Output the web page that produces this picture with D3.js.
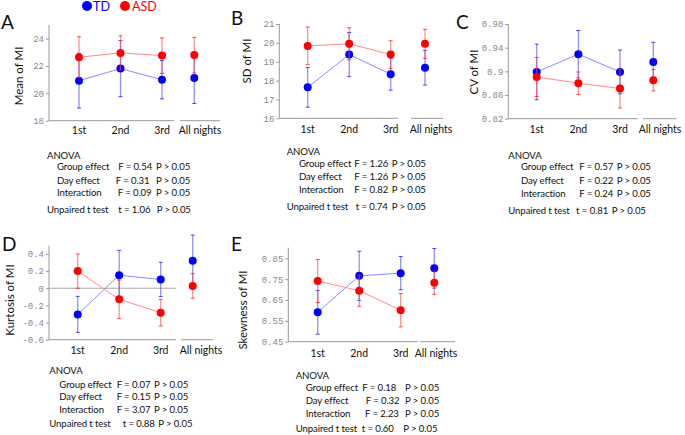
<!DOCTYPE html>
<html><head><meta charset="utf-8">
<script src="https://cdn.jsdelivr.net/npm/d3@7"></script>
<style>
body{margin:0;background:#fff;}
svg{display:block;}
</style></head>
<body>
<svg id="chart" width="685" height="435"></svg>
<script>
// ---------- data ----------
const categories = ["1st", "2nd", "3rd", "All nights"];
const groups = ["TD", "ASD"];

const meanTD = [20.93, 21.81, 21.0, 21.13];
const meanTDsd = [2.0, 2.05, 1.4, 1.87];
const meanASD = [22.64, 22.96, 22.76, 22.8];
const meanASDsd = [1.5, 1.25, 1.3, 1.3];

const sdTD = [17.64, 19.38, 18.34, 18.68];
const sdTDsd = [1.05, 1.17, 0.85, 0.92];
const sdASD = [19.84, 19.95, 19.38, 19.95];
const sdASDsd = [1.0, 0.85, 0.73, 0.77];

const cvTD = [0.899, 0.929, 0.899, 0.916];
const cvTDsd = [0.047, 0.04, 0.037, 0.033];
const cvASD = [0.8905, 0.88, 0.871, 0.885];
const cvASDsd = [0.033, 0.019, 0.033, 0.018];

const kurtTD = [-0.305, 0.152, 0.102, 0.32];
const kurtTDsd = [0.21, 0.29, 0.2, 0.3];
const kurtASD = [0.2, -0.129, -0.285, 0.027];
const kurtASDsd = [0.2, 0.225, 0.155, 0.143];

const skewTD = [0.591, 0.766, 0.779, 0.802];
const skewTDsd = [0.105, 0.118, 0.08, 0.095];
const skewASD = [0.741, 0.695, 0.601, 0.733];
const skewASDsd = [0.103, 0.075, 0.08, 0.056];

const ticksA = [18, 20, 22, 24];
const ticksB = [16, 17, 18, 19, 20, 21];
const ticksC = [0.82, 0.86, 0.9, 0.94, 0.98];
const ticksD = [-0.6, -0.4, -0.2, 0, 0.2, 0.4];
const ticksE = [0.45, 0.55, 0.65, 0.75, 0.85];

const statsA = [["Group effect", "F = 0.54", "P > 0.05"], ["Day effect", "F = 0.31", "P > 0.05"], ["Interaction", "F = 0.09", "P > 0.05"], ["Unpaired t test", "t = 1.06", "P > 0.05"]];
const statsB = [["Group effect", "F = 1.26", "P > 0.05"], ["Day effect", "F = 1.26", "P > 0.05"], ["Interaction", "F = 0.82", "P > 0.05"], ["Unpaired t test", "t = 0.74", "P > 0.05"]];
const statsC = [["Group effect", "F = 0.57", "P > 0.05"], ["Day effect", "F = 0.22", "P > 0.05"], ["Interaction", "F = 0.24", "P > 0.05"], ["Unpaired t test", "t = 0.81", "P > 0.05"]];
const statsD = [["Group effect", "F = 0.07", "P > 0.05"], ["Day effect", "F = 0.15", "P > 0.05"], ["Interaction", "F = 3.07", "P > 0.05"], ["Unpaired t test", "t = 0.88", "P > 0.05"]];
const statsE = [["Group effect", "F = 0.18", "P > 0.05"], ["Day effect", "F = 0.32", "P > 0.05"], ["Interaction", "F = 2.23", "P > 0.05"], ["Unpaired t test", "t = 0.60", "P > 0.05"]];

// ---------- layout ----------
const colors = {TD: "#0000ff", ASD: "#ff0000"};
const lineColors = {TD: "#8c8cff", ASD: "#ff8c8c"};
const barColors = {TD: "rgba(70,70,255,0.6)", ASD: "rgba(255,70,70,0.6)"};
const font = "Lato, 'Open Sans', sans-serif";
const mono = "'Liberation Mono', 'DejaVu Sans Mono', monospace";

const panels = [
  {letter: "A", ylabel: "Mean of MI", td: meanTD, tdE: meanTDsd, asd: meanASD, asdE: meanASDsd,
   domain: [18, 25], ticks: ticksA, x0: 49, yTop: 25, yBot: 120.7, xEnd: 174, sep: [180, 220],
   first: 79, last: 162, all: 194.3, allLab: 200, letterPos: [1, 29], ylabPos: [23, 76], xlabY: 134,
   stats: statsA, st: {ax: 47, ay: 155, lx: 57, ly: [166.7, 180, 192.7], fx: [118.3, 115.7, 117.7], px: 156, ty: 209.3, tx: 118.3, tpx: 156.7}},
  {letter: "B", ylabel: "SD of MI", td: sdTD, tdE: sdTDsd, asd: sdASD, asdE: sdASDsd,
   domain: [16, 21], ticks: ticksB, x0: 279.3, yTop: 24, yBot: 118.3, xEnd: 398, sep: [411, 443],
   first: 307.7, last: 390.7, all: 425, allLab: 431, letterPos: [231, 25], ylabPos: [251, 61], xlabY: 133,
   stats: statsB, st: {ax: 286.7, ay: 151.7, lx: 299, ly: [163.3, 176, 189.3], fx: [354.3, 357.7, 356], px: 391.7, ty: 206, tx: 355.7, tpx: 391.7}},
  {letter: "C", ylabel: "CV of MI", td: cvTD, tdE: cvTDsd, asd: cvASD, asdE: cvASDsd,
   domain: [0.82, 0.98], ticks: ticksC, x0: 508.3, yTop: 24, yBot: 118.7, xEnd: 637.7, sep: [643, 676.7],
   first: 536.7, last: 620, all: 653.3, allLab: 660, letterPos: [456, 29], ylabPos: [478, 72], xlabY: 133,
   stats: statsC, st: {ax: 508.3, ay: 155, lx: 521, ly: [166.7, 180, 193.3], fx: [580, 580, 581], px: 616.7, ty: 210.7, tx: 578.3, tpx: 611.7}},
  {letter: "D", ylabel: "Kurtosis  of MI", td: kurtTD, tdE: kurtTDsd, asd: kurtASD, asdE: kurtASDsd,
   domain: [-0.6, 0.496], ticks: ticksD, x0: 49, yTop: 245.7, yBot: 339.7, xEnd: 176, sep: [181, 213],
   first: 77.7, last: 160.7, all: 192.7, allLab: 201, letterPos: [2, 251], ylabPos: [14, 300], xlabY: 354, zero: true,
   stats: statsD, st: {ax: 49.3, ay: 370, lx: 59.3, ly: [384, 396, 409.3], fx: [119.3, 120, 120], px: 154, ty: 423.3, tx: 124, tpx: 158.3}},
  {letter: "E", ylabel: "Skewness of MI", td: skewTD, tdE: skewTDsd, asd: skewASD, asdE: skewASDsd,
   domain: [0.45, 0.901], ticks: ticksE, x0: 288.3, yTop: 247.7, yBot: 341.7, xEnd: 418, sep: [420, 455],
   first: 317.7, last: 400.7, all: 434.3, allLab: 436, letterPos: [231, 251], ylabPos: [247, 310], xlabY: 357,
   stats: statsE, st: {ax: 295.7, ay: 375, lx: 305.7, ly: [387.7, 400.7, 413.3], fx: [362.3, 365.7, 365], px: 405, ty: 428.3, tx: 361.7, tpx: 403.3}}
];

const svg = d3.select("#chart");

// legend
const legend = svg.append("g");
[["TD", 87, 93], ["ASD", 125, 132]].forEach(([g, cx, tx]) => {
  legend.append("circle").attr("cx", cx).attr("cy", 6).attr("r", 5).attr("fill", colors[g]);
  legend.append("text").attr("x", tx).attr("y", 11).attr("font-family", font).attr("font-size", 12.5)
    .attr("fill", colors[g]).text(g);
});

panels.forEach(p => {
  const g = svg.append("g");
  const y = d3.scaleLinear().domain(p.domain).range([p.yBot, p.yTop]);
  const xDays = d3.scalePoint().domain(categories.slice(0, 3)).range([p.first, p.last]);
  const x = c => c === categories[3] ? p.all : xDays(c);
  const xl = c => c === categories[3] ? p.allLab : xDays(c);

  // panel letter
  g.append("text").attr("x", p.letterPos[0]).attr("y", p.letterPos[1]).attr("font-family", font)
    .attr("font-size", 19).attr("fill", "#111").text(p.letter);

  // y axis
  const yAxis = d3.axisLeft(y).tickValues(p.ticks).tickSize(3).tickPadding(2).tickSizeOuter(0)
    .tickFormat(d => String(+d.toFixed(2)));
  const ya = g.append("g").attr("transform", `translate(${p.x0},0)`).call(yAxis);
  ya.select(".domain").attr("stroke", "#999").attr("d", `M0,${p.yTop}V${p.yBot}`);
  ya.selectAll(".tick line").attr("stroke", "#999");
  ya.selectAll(".tick text").attr("font-family", mono).attr("font-size", 9).attr("fill", "#888");

  // x axis lines
  g.append("line").attr("x1", p.x0).attr("x2", p.xEnd).attr("y1", p.yBot).attr("y2", p.yBot).attr("stroke", "#999");
  g.append("line").attr("x1", p.sep[0]).attr("x2", p.sep[1]).attr("y1", p.yBot).attr("y2", p.yBot).attr("stroke", "#999");
  if (p.zero) {
    g.append("line").attr("x1", p.x0).attr("x2", p.xEnd).attr("y1", y(0)).attr("y2", y(0)).attr("stroke", "#aaa");
  }
  // x labels
  categories.forEach(c => {
    g.append("text").attr("x", xl(c)).attr("y", p.xlabY).attr("text-anchor", "middle")
      .attr("font-family", font).attr("font-size", 10.5).attr("fill", "#111").text(c);
  });
  // y label
  g.append("text").attr("transform", `translate(${p.ylabPos[0]},${p.ylabPos[1]}) rotate(-90)`)
    .attr("text-anchor", "middle").attr("font-family", font).attr("font-size", 11.5).attr("fill", "#111").text(p.ylabel);

  // series
  [["TD", p.td, p.tdE], ["ASD", p.asd, p.asdE]].forEach(([grp, vals, errs]) => {
    const pts = categories.map((c, i) => ({c, v: vals[i], e: errs[i]}));
    const line = d3.line().x(d => x(d.c)).y(d => y(d.v));
    g.append("path").datum(pts.slice(0, 3)).attr("d", line).attr("fill", "none")
      .attr("stroke", lineColors[grp]).attr("stroke-width", 1);
    const eb = g.append("g");
    pts.forEach(d => {
      const xx = x(d.c);
      eb.append("line").attr("x1", xx).attr("x2", xx).attr("y1", y(d.v - d.e)).attr("y2", y(d.v + d.e))
        .attr("stroke", barColors[grp]).attr("stroke-width", 1.3);
      [d.v - d.e, d.v + d.e].forEach(v => {
        eb.append("line").attr("x1", xx - 2).attr("x2", xx + 2).attr("y1", y(v)).attr("y2", y(v))
          .attr("stroke", colors[grp]).attr("stroke-opacity", 0.7).attr("stroke-width", 1);
      });
    });
    g.append("g").selectAll("circle").data(pts).join("circle")
      .attr("cx", d => x(d.c)).attr("cy", d => y(d.v)).attr("r", 4).attr("fill", colors[grp]);
  });

  // stats
  const s = p.st;
  const txt = (tx, ty, t) => g.append("text").attr("x", tx).attr("y", ty + 3.5).attr("font-family", font)
    .attr("font-size", 9.6).attr("letter-spacing", -0.1).attr("fill", "#111").text(t);
  // middle column text kept clear of the P column
  const mid = (tx, ty, t, pxx) => {
    const el = txt(tx, ty, t);
    const w = el.node().getComputedTextLength();
    if (tx + w > pxx - 3.5) el.attr("x", pxx - 3.5 - w);
    return el;
  };
  txt(s.ax, s.ay, "ANOVA");
  for (let i = 0; i < 3; i++) {
    txt(s.lx, s.ly[i], p.stats[i][0]);
    mid(s.fx[i], s.ly[i], p.stats[i][1], s.px);
    txt(s.px, s.ly[i], p.stats[i][2]);
  }
  txt(s.ax, s.ty, p.stats[3][0]);
  mid(s.tx, s.ty, p.stats[3][1], s.tpx);
  txt(s.tpx, s.ty, p.stats[3][2]);
});
</script>
</body></html>
